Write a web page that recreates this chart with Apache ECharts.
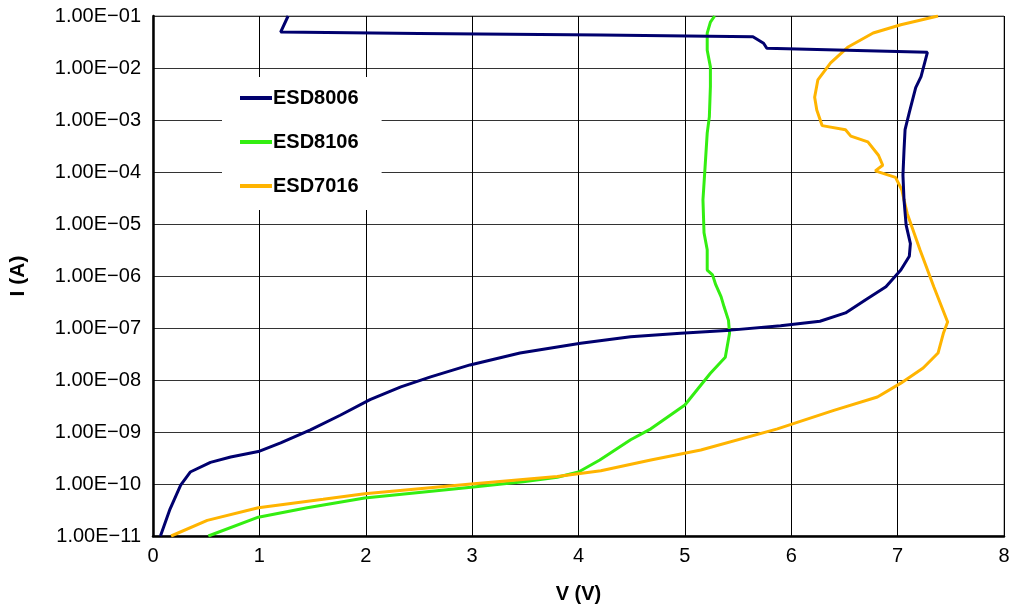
<!DOCTYPE html>
<html><head><meta charset="utf-8">
<script src="https://cdn.jsdelivr.net/npm/echarts@6/dist/echarts.min.js"></script>
<style>html,body{margin:0;padding:0;background:#fff}#c{width:1017px;height:612px}</style>
</head><body><div id="c"></div>
<script>
// Data: [V (volts), I (amps)]
const seriesNames = ['ESD8006', 'ESD8106', 'ESD7016'];
const xTicks = [0, 1, 2, 3, 4, 5, 6, 7, 8];
const yTickExponents = [-11, -10, -9, -8, -7, -6, -5, -4, -3, -2, -1];

const esd8006 = [
  [0.07, 1.0e-11], [0.16, 3.3e-11], [0.26, 9.5e-11], [0.35, 1.7e-10], [0.54, 2.6e-10],
  [0.73, 3.3e-10], [0.99, 4.2e-10], [1.20, 6.2e-10], [1.48, 1.1e-9], [1.76, 2.1e-9],
  [2.04, 4.2e-9], [2.33, 7.4e-9], [2.61, 1.15e-8], [2.98, 1.95e-8], [3.45, 3.3e-8],
  [4.02, 5.1e-8], [4.49, 6.8e-8], [4.96, 7.9e-8], [5.43, 9.1e-8], [5.90, 1.1e-7],
  [6.27, 1.35e-7], [6.51, 1.95e-7], [6.70, 3.5e-7], [6.89, 6.2e-7], [7.03, 1.3e-6],
  [7.11, 2.4e-6], [7.12, 4.2e-6], [7.08, 9.5e-6], [7.06, 2.9e-5], [7.05, 8.7e-5],
  [7.06, 2.6e-4], [7.07, 6.5e-4], [7.11, 1.4e-3], [7.17, 4.2e-3], [7.22, 6.8e-3],
  [7.28, 2.0e-2], [5.77, 2.4e-2], [5.74, 3.0e-2], [5.64, 4.0e-2], [4.21, 4.3e-2],
  [2.50, 4.6e-2], [1.20, 4.9e-2], [1.27, 1.0e-1]
];
const esd8106 = [
  [0.52, 1.0e-11], [0.99, 2.3e-11], [1.45, 3.5e-11], [1.99, 5.4e-11], [2.99, 8.7e-11],
  [3.48, 1.1e-10], [3.80, 1.35e-10], [4.00, 1.7e-10], [4.20, 2.9e-10], [4.49, 7.1e-10],
  [4.68, 1.15e-9], [5.00, 3.3e-9], [5.24, 1.35e-8], [5.38, 2.75e-8], [5.42, 7.9e-8],
  [5.41, 1.4e-7], [5.37, 2.5e-7], [5.34, 4.0e-7], [5.29, 6.8e-7], [5.26, 1.05e-6],
  [5.21, 1.3e-6], [5.21, 3.2e-6], [5.18, 6.8e-6], [5.17, 2.9e-5], [5.19, 1.25e-4],
  [5.21, 5.6e-4], [5.23, 1.15e-3], [5.24, 4.4e-3], [5.24, 1.05e-2], [5.21, 2.2e-2],
  [5.21, 4.7e-2], [5.24, 7.6e-2], [5.28, 1.0e-1]
];
const esd7016 = [
  [0.17, 1.0e-11], [0.51, 2.0e-11], [0.99, 3.5e-11], [1.60, 5.1e-11], [1.99, 6.5e-11],
  [2.99, 1.0e-10], [3.80, 1.4e-10], [4.21, 1.8e-10], [4.68, 2.9e-10], [5.15, 4.5e-10],
  [5.87, 1.15e-9], [6.40, 2.6e-9], [6.81, 4.7e-9], [7.03, 8.7e-9], [7.24, 1.7e-8],
  [7.38, 3.3e-8], [7.43, 7.9e-8], [7.47, 1.3e-7], [7.34, 6.2e-7], [7.21, 3.2e-6],
  [7.09, 1.6e-5], [7.06, 2.9e-5], [7.04, 4.5e-5], [6.98, 7.9e-5], [6.79, 1.05e-4],
  [6.86, 1.35e-4], [6.82, 2.1e-4], [6.72, 3.8e-4], [6.56, 4.9e-4], [6.51, 6.5e-4],
  [6.29, 7.8e-4], [6.24, 1.55e-3], [6.22, 2.75e-3], [6.25, 5.9e-3], [6.37, 1.25e-2],
  [6.53, 2.5e-2], [6.77, 4.7e-2], [7.03, 6.8e-2], [7.38, 1.0e-1]
];

const colors = ['#00006e', '#33ee11', '#ffb400'];
const FONT = "'Liberation Sans', Arial, Helvetica, sans-serif";

function fmtExp(v) {
  const e = Math.round(Math.log10(v));
  const a = Math.abs(e);
  return '1.00E' + (e < 0 ? '\u2212' : '+') + (a < 10 ? '0' + a : '' + a);
}

const chart = echarts.init(document.getElementById('c'), null, { renderer: 'canvas' });
chart.setOption({
  animation: false,
  backgroundColor: '#fff',
  textStyle: { fontFamily: FONT },
  grid: { left: 152, right: 13, top: 16, bottom: 76, show: true, borderColor: '#777', borderWidth: 1, containLabel: false },
  legend: {
    data: seriesNames,
    orient: 'vertical',
    left: 222, top: 77,
    backgroundColor: '#fff',
    padding: [11, 23, 14, 18],
    itemGap: 24,
    icon: 'rect',
    itemWidth: 32, itemHeight: 4,
    textStyle: { fontFamily: FONT, fontSize: 20, fontWeight: 'bold', color: '#000', padding: [0, 0, 0, -4] }
  },
  xAxis: {
    type: 'value', min: xTicks[0], max: xTicks[xTicks.length - 1], interval: 1,
    name: 'V (V)', nameLocation: 'middle', nameGap: 48,
    nameTextStyle: { fontFamily: FONT, fontSize: 20, fontWeight: 'bold', color: '#000' },
    axisLine: { show: true, onZero: false, lineStyle: { color: '#000', width: 2.5 } },
    axisTick: { show: false },
    axisLabel: { fontFamily: FONT, fontSize: 20, color: '#000', margin: 10 },
    splitLine: { show: true, lineStyle: { color: '#000', width: 1 } }
  },
  yAxis: {
    type: 'log', logBase: 10,
    min: Math.pow(10, yTickExponents[0]), max: Math.pow(10, yTickExponents[yTickExponents.length - 1]),
    interval: 1,
    name: 'I (A)', nameLocation: 'middle', nameGap: 124, nameRotate: 90,
    nameTextStyle: { fontFamily: FONT, fontSize: 21, fontWeight: 'bold', color: '#000' },
    axisLine: { show: true, onZero: false, lineStyle: { color: '#000', width: 2.5 } },
    axisTick: { show: false },
    axisLabel: { fontFamily: FONT, fontSize: 20, color: '#000', margin: 12, formatter: fmtExp },
    splitLine: { show: true, lineStyle: { color: '#333', width: 1.2 } },
    minorSplitLine: { show: false }
  },
  series: [
    { name: seriesNames[0], type: 'line', data: esd8006, showSymbol: false, symbol: 'none', z: 5,
      lineStyle: { color: colors[0], width: 3 }, itemStyle: { color: colors[0] } },
    { name: seriesNames[1], type: 'line', data: esd8106, showSymbol: false, symbol: 'none', z: 3,
      lineStyle: { color: colors[1], width: 3 }, itemStyle: { color: colors[1] } },
    { name: seriesNames[2], type: 'line', data: esd7016, showSymbol: false, symbol: 'none', z: 4,
      lineStyle: { color: colors[2], width: 3 }, itemStyle: { color: colors[2] } }
  ]
});
</script>
</body></html>
